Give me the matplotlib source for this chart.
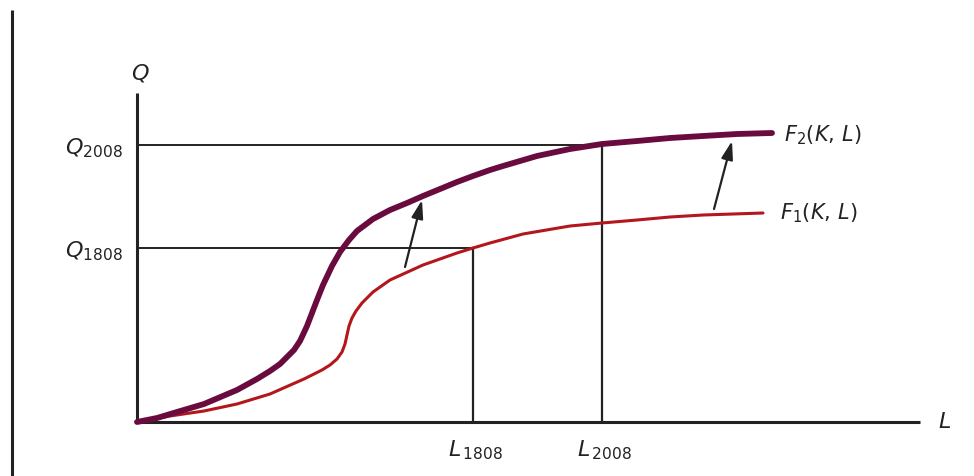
import matplotlib
matplotlib.use("Agg")
import matplotlib.pyplot as plt

plt.rcParams['mathtext.fontset'] = 'dejavusans'

# Data (units: horizontal/vertical offsets from origin)
f2_L = [0, 20, 40, 67, 100, 120, 133, 143, 150, 157, 163, 170, 175, 180, 186, 195, 203, 212, 220, 236, 253, 270, 286, 303, 320, 336, 353, 366, 400, 433, 465, 500, 533, 566, 600, 635]
f2_Q = [0, 4, 10, 18, 32, 43, 51, 58, 65, 72, 81, 96, 109, 122, 137, 156, 170, 182, 191, 203, 212, 219, 226, 233, 240, 246, 252, 256, 266, 273, 278, 281, 284, 286, 288, 289]
f1_L = [0, 33, 67, 100, 133, 167, 185, 193, 200, 205, 208, 210, 212, 215, 219, 225, 236, 253, 286, 320, 336, 353, 386, 433, 465, 500, 533, 566, 626]
f1_Q = [0, 6, 11, 18, 28, 43, 52, 57, 63, 70, 78, 87, 96, 104, 111, 119, 130, 142, 157, 169, 174, 179, 188, 196, 199, 202, 205, 207, 209]

Q_levels = [174, 277]
Q_labels = ["1808", "2008"]
L_levels = [336, 465]
L_labels = ["1808", "2008"]

arrows = [((268, 155), (285, 222)), ((577, 213), (595, 281))]
curve_labels = ["$F_2(K,\\,L)$", "$F_1(K,\\,L)$"]

fig = plt.figure(figsize=(9.74, 4.77), dpi=100)
ax = fig.add_axes([0, 0, 1, 1])
ax.set_xlim(-137, 837)
ax.set_ylim(-54, 423)
ax.axis('off')

black = '#222222'
# frame line at left
ax.plot([-125, -125], [-54, 412], color=black, lw=2.2, solid_capstyle='butt')
# axes
ax.plot([0, 0], [0, 329], color=black, lw=2.2, solid_capstyle='butt')
ax.plot([0, 783], [0, 0], color=black, lw=2.2, solid_capstyle='butt')
ax.text(3, 350, "$Q$", fontsize=16, ha='center', va='center', color='#222222')
ax.text(808, 1, "$L$", fontsize=16, ha='center', va='center', color='#222222')

# guide lines
for q, L in zip(Q_levels, L_levels):
    ax.plot([0, L], [q, q], color=black, lw=1.4)
    ax.plot([L, L], [0, q], color=black, lw=1.6)
for q, lab in zip(Q_levels, Q_labels):
    ax.text(-14, q - 2, "$Q_{\\mathrm{%s}}$" % lab, fontsize=16, ha='right', va='center', color=black)
for L, lab in zip(L_levels, L_labels):
    ax.text(L + 3, -27, "$L_{\\,\\mathrm{%s}}$" % lab, fontsize=16, ha='center', va='center', color=black)

# curves
ax.plot(f1_L, f1_Q, color='#b3161c', lw=2.2, solid_capstyle='round', solid_joinstyle='round')
ax.plot(f2_L, f2_Q, color='#6a0b40', lw=4.2, solid_capstyle='round', solid_joinstyle='round')

ax.text(f2_L[-1] + 12, f2_Q[-1] - 1, curve_labels[0], fontsize=15, ha='left', va='center', color=black)
ax.text(f1_L[-1] + 17, f1_Q[-1] + 1, curve_labels[1], fontsize=15, ha='left', va='center', color=black)

for (x0, y0), (x1, y1) in arrows:
    ax.annotate("", xy=(x1, y1), xytext=(x0, y0),
                arrowprops=dict(arrowstyle='-|>,head_length=1.1,head_width=0.35', color=black, lw=1.6, shrinkA=0, shrinkB=0))

fig.savefig("out.png", dpi=100)
